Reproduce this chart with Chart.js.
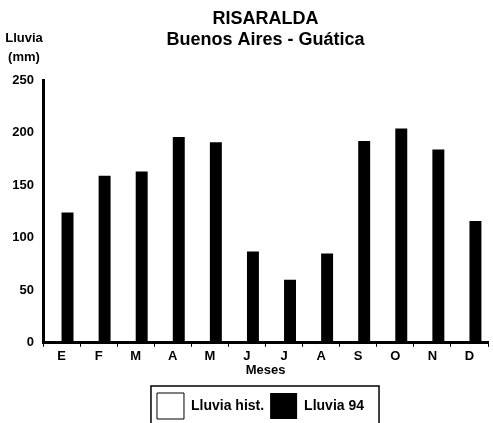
<!DOCTYPE html>
<html>
<head>
<meta charset="utf-8">
<script src="https://cdn.jsdelivr.net/npm/chart.js@4/dist/chart.umd.min.js"></script>
<style>
  html, body { margin: 0; padding: 0; background: #fff; }
  #wrap { width: 493px; height: 423px; }
</style>
</head>
<body>
<div id="wrap"><canvas id="rainChart"></canvas></div>
<script>
// Data
const months = ['E', 'F', 'M', 'A', 'M', 'J', 'J', 'A', 'S', 'O', 'N', 'D'];
const histValues = []; // "Lluvia hist." has no visible bars
const rain94Values = [124, 159, 163, 196, 191, 87, 60, 85, 192, 204, 184, 116];
const yTicks = [0, 50, 100, 150, 200, 250];

const FONT = '"Liberation Sans", Arial, sans-serif';
const LEGEND_SHIFT = -5; // legend sits a little left of the plot centre

// Draws the "Lluvia (mm)" label above the y axis and the box around the legend
const extras = {
    id: 'extras',
    afterUpdate(chart) {
        const legend = chart.legend;
        legend.left += LEGEND_SHIFT;
        legend.right += LEGEND_SHIFT;
        legend.legendHitBoxes.forEach(b => { b.left += LEGEND_SHIFT; });
    },
    afterDraw(chart) {
        const ctx = chart.ctx;
        const area = chart.chartArea;
        ctx.save();
        ctx.fillStyle = '#000';
        ctx.font = 'bold 13px ' + FONT;
        ctx.textAlign = 'center';
        ctx.textBaseline = 'middle';
        ctx.fillText('Lluvia', area.left - 19, area.top - 42);
        ctx.fillText('(mm)', area.left - 19, area.top - 23);

        const boxes = chart.legend.legendHitBoxes;
        if (boxes && boxes.length) {
            const left = Math.min(...boxes.map(b => b.left)) - 6;
            const right = Math.max(...boxes.map(b => b.left + b.width)) + 15;
            const top = Math.min(...boxes.map(b => b.top)) - 7;
            ctx.strokeStyle = '#000';
            ctx.lineWidth = 1.5;
            ctx.strokeRect(left, top, right - left, chart.height - top + 10);
        }
        ctx.restore();
    }
};

new Chart(document.getElementById('rainChart'), {
    type: 'bar',
    data: {
        labels: months,
        datasets: [
            {
                label: 'Lluvia hist.',
                data: histValues,
                backgroundColor: '#fff',
                borderColor: '#000',
                borderWidth: 1
            },
            {
                label: 'Lluvia 94',
                data: rain94Values,
                backgroundColor: '#000',
                borderColor: '#000',
                borderWidth: 0
            }
        ]
    },
    options: {
        responsive: true,
        maintainAspectRatio: false,
        animation: false,
        categoryPercentage: 0.645,
        barPercentage: 1.0,
        layout: { padding: { left: 3, right: 5, top: 0, bottom: -6 } },
        scales: {
            x: {
                offset: true,
                grid: { drawOnChartArea: false, drawTicks: true, tickLength: 4, color: '#000', offset: true },
                border: { color: '#000', width: 3 },
                ticks: { color: '#000', font: { family: FONT, weight: 'bold', size: 13 }, padding: 2 },
                title: { display: true, text: 'Meses', color: '#000', font: { family: FONT, weight: 'bold', size: 13 }, padding: { top: -4, bottom: 9 } }
            },
            y: {
                min: 0,
                max: 250,
                afterBuildTicks(scale) { scale.ticks = yTicks.map(v => ({ value: v })); },
                afterFit(scale) { scale.width = 40; },
                grid: { drawOnChartArea: false, drawTicks: false },
                border: { color: '#000', width: 3 },
                ticks: { color: '#000', font: { family: FONT, weight: 'bold', size: 13 }, padding: 9 }
            }
        },
        plugins: {
            title: {
                display: true,
                fullSize: false,
                text: ['RISARALDA', 'Buenos Aires - Guática'],
                color: '#000',
                font: { family: FONT, weight: 'bold', size: 18, lineHeight: 1.2 },
                padding: { top: 8, bottom: 29 }
            },
            legend: {
                position: 'bottom',
                fullSize: false,
                labels: {
                    color: '#000',
                    boxWidth: 27,
                    boxHeight: 26,
                    padding: 6,
                    font: { family: FONT, weight: 'bold', size: 14 }
                }
            },
            tooltip: { enabled: false }
        }
    },
    plugins: [extras]
});
</script>
</body>
</html>
